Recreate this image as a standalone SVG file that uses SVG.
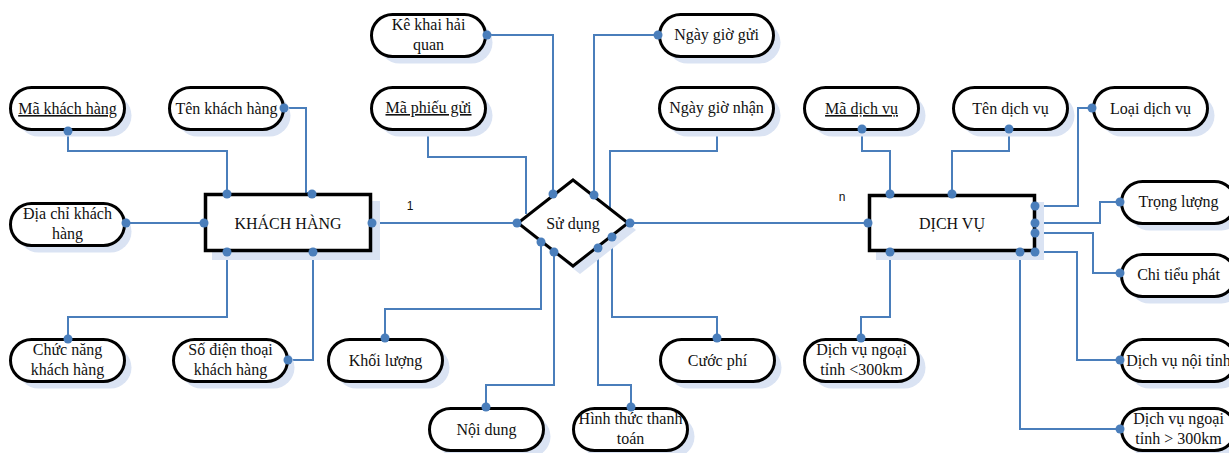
<svg xmlns="http://www.w3.org/2000/svg" width="1229" height="453" viewBox="0 0 1229 453">
  <defs>
    <style>
      .shadow { fill: #dae3f3; }
      .pill { fill: #ffffff; stroke: #000000; stroke-width: 3; }
      .box { fill: #ffffff; stroke: #000000; stroke-width: 3.5; }
      .lbl { font-family: "Liberation Serif", "Times New Roman", serif; font-size: 16px; fill: #111111; text-anchor: middle; }
      .key { text-decoration: underline; }
      .card { font-family: "Liberation Sans", Arial, sans-serif; font-size: 12px; fill: #111111; }
      .wire { fill: none; stroke: #4a7ebb; stroke-width: 2; }
      .dot { fill: #4a7ebb; }
    </style>
    <!-- attribute ellipse: shadow + outline, placed with translate -->
    <g id="pillShape">
      <rect class="shadow" x="8.5" y="8.5" width="114" height="42" rx="21"/>
      <rect class="pill" x="1.5" y="1.5" width="114" height="42" rx="21"/>
    </g>
  </defs>

  <rect width="1229" height="453" fill="#ffffff"/>

  <!-- connectors -->
  <g id="connectors">
    <path class="wire" d="M68,131 V151 H227 V194"/>
    <path class="wire" d="M284,108 H306 V193 H312"/>
    <path class="wire" d="M126,223 H204"/>
    <path class="wire" d="M227,252 V317 H68 V339"/>
    <path class="wire" d="M313,252 V360 H288"/>
    <path class="wire" d="M372,223 H517"/>
    <path class="wire" d="M487,35 H553 V194"/>
    <path class="wire" d="M428,129 V157 H526 V214"/>
    <path class="wire" d="M658,35 H594 V195"/>
    <path class="wire" d="M717,129 V151 H610 V208"/>
    <path class="wire" d="M541,242 V309 H385 V338"/>
    <path class="wire" d="M554,252 V385 H486 V407"/>
    <path class="wire" d="M598,248 V385 H631 V407"/>
    <path class="wire" d="M612,237 V317 H717 V338"/>
    <path class="wire" d="M630,223 H868"/>
    <path class="wire" d="M862,129 V151 H890 V194"/>
    <path class="wire" d="M1009,129 V151 H952 V194"/>
    <path class="wire" d="M1092,108 H1078 V206 H1035"/>
    <path class="wire" d="M1035,223 H1100 V202 H1120"/>
    <path class="wire" d="M1035,233 H1093 V273 H1120"/>
    <path class="wire" d="M1035,252 H1077 V360 H1120"/>
    <path class="wire" d="M1020,252 V429 H1120"/>
    <path class="wire" d="M890,252 V317 H861 V338"/>
    <text class="card" x="410" y="210" text-anchor="middle">1</text>
    <text class="card" x="842" y="201" text-anchor="middle">n</text>
  </g>

  <!-- entity: KHÁCH HÀNG -->
  <g id="khach-hang">
    <rect class="shadow" x="212" y="201" width="168" height="59"/>
    <rect class="box" x="205.5" y="194.5" width="165" height="56"/>
    <text class="lbl" x="288" y="229">KHÁCH HÀNG</text>
  </g>

  <!-- relationship: Sử dụng -->
  <g id="su-dung">
    <polygon class="shadow" points="580,186 636,230 580,274 524,230"/>
    <polygon class="pill" points="573,180 628,223 573,266 518,223"/>
    <text class="lbl" x="573" y="229">Sử dụng</text>
  </g>

  <!-- entity: DỊCH VỤ -->
  <g id="dich-vu">
    <rect class="shadow" x="876" y="202" width="168" height="58"/>
    <rect class="box" x="869.5" y="195.5" width="165" height="55"/>
    <text class="lbl" x="952" y="229">DỊCH VỤ</text>
  </g>

  <!-- attributes of KHÁCH HÀNG -->
  <g id="ma-khach-hang" transform="translate(9,86)">
    <use href="#pillShape"/>
    <text class="lbl key" x="58.5" y="28">Mã khách hàng</text>
  </g>
  <g id="ten-khach-hang" transform="translate(168,86)">
    <use href="#pillShape"/>
    <text class="lbl" x="58.5" y="28">Tên khách hàng</text>
  </g>
  <g id="dia-chi-khach-hang" transform="translate(9,202)">
    <use href="#pillShape"/>
    <text class="lbl" x="58.5" y="17">Địa chỉ khách</text>
    <text class="lbl" x="58.5" y="37">hàng</text>
  </g>
  <g id="chuc-nang-khach-hang" transform="translate(9,338)">
    <use href="#pillShape"/>
    <text class="lbl" x="58.5" y="17">Chức năng</text>
    <text class="lbl" x="58.5" y="37">khách hàng</text>
  </g>
  <g id="so-dien-thoai" transform="translate(172,338)">
    <use href="#pillShape"/>
    <text class="lbl" x="58.5" y="17">Số điện thoại</text>
    <text class="lbl" x="58.5" y="37">khách hàng</text>
  </g>

  <!-- attributes of Sử dụng -->
  <g id="ke-khai-hai-quan" transform="translate(370,13)">
    <use href="#pillShape"/>
    <text class="lbl" x="58.5" y="17">Kê khai hải</text>
    <text class="lbl" x="58.5" y="37">quan</text>
  </g>
  <g id="ma-phieu-gui" transform="translate(370,86)">
    <use href="#pillShape"/>
    <text class="lbl key" x="58.5" y="27">Mã phiếu gửi</text>
  </g>
  <g id="ngay-gio-gui" transform="translate(658,13)">
    <use href="#pillShape"/>
    <text class="lbl" x="58.5" y="27">Ngày giờ gửi</text>
  </g>
  <g id="ngay-gio-nhan" transform="translate(658,86)">
    <use href="#pillShape"/>
    <text class="lbl" x="58.5" y="27">Ngày giờ nhận</text>
  </g>
  <g id="khoi-luong" transform="translate(327,338)">
    <use href="#pillShape"/>
    <text class="lbl" x="58.5" y="28">Khối lượng</text>
  </g>
  <g id="noi-dung" transform="translate(428,407)">
    <use href="#pillShape"/>
    <text class="lbl" x="58.5" y="28">Nội dung</text>
  </g>
  <g id="hinh-thuc-thanh-toan" transform="translate(572,407)">
    <use href="#pillShape"/>
    <text class="lbl" x="58.5" y="17">Hình thức thanh</text>
    <text class="lbl" x="58.5" y="37">toán</text>
  </g>
  <g id="cuoc-phi" transform="translate(659,338)">
    <use href="#pillShape"/>
    <text class="lbl" x="58.5" y="28">Cước phí</text>
  </g>

  <!-- attributes of DỊCH VỤ -->
  <g id="ma-dich-vu" transform="translate(803,86)">
    <use href="#pillShape"/>
    <text class="lbl key" x="58.5" y="28">Mã dịch vụ</text>
  </g>
  <g id="ten-dich-vu" transform="translate(952,86)">
    <use href="#pillShape"/>
    <text class="lbl" x="58.5" y="28">Tên dịch vụ</text>
  </g>
  <g id="loai-dich-vu" transform="translate(1092,86)">
    <use href="#pillShape"/>
    <text class="lbl" x="58.5" y="28">Loại dịch vụ</text>
  </g>
  <g id="trong-luong" transform="translate(1120,180)">
    <use href="#pillShape"/>
    <text class="lbl" x="58.5" y="27">Trọng lượng</text>
  </g>
  <g id="chi-tieu-phat" transform="translate(1120,253)">
    <use href="#pillShape"/>
    <text class="lbl" x="58.5" y="27">Chi tiểu phát</text>
  </g>
  <g id="dv-ngoai-tinh-duoi" transform="translate(803,338)">
    <use href="#pillShape"/>
    <text class="lbl" x="58.5" y="17">Dịch vụ ngoại</text>
    <text class="lbl" x="58.5" y="37">tỉnh &lt;300km</text>
  </g>
  <g id="dv-noi-tinh" transform="translate(1120,338)">
    <use href="#pillShape"/>
    <text class="lbl" x="58.5" y="28">Dịch vụ nội tỉnh</text>
  </g>
  <g id="dv-ngoai-tinh-tren" transform="translate(1120,407)">
    <use href="#pillShape"/>
    <text class="lbl" x="58.5" y="17">Dịch vụ ngoại</text>
    <text class="lbl" x="58.5" y="37">tỉnh &gt; 300km</text>
  </g>

  <!-- connection points drawn over the outlines -->
  <g id="connection-points">
    <circle class="dot" cx="68" cy="131" r="4.5"/>
    <circle class="dot" cx="227" cy="194" r="4.5"/>
    <circle class="dot" cx="284" cy="108" r="4.5"/>
    <circle class="dot" cx="312" cy="194" r="4.5"/>
    <circle class="dot" cx="126" cy="223" r="4.5"/>
    <circle class="dot" cx="204" cy="223" r="4.5"/>
    <circle class="dot" cx="227" cy="252" r="4.5"/>
    <circle class="dot" cx="68" cy="339" r="4.5"/>
    <circle class="dot" cx="313" cy="252" r="4.5"/>
    <circle class="dot" cx="288" cy="360" r="4.5"/>
    <circle class="dot" cx="372" cy="223" r="4.5"/>
    <circle class="dot" cx="517" cy="223" r="4.5"/>
    <circle class="dot" cx="487" cy="35" r="4.5"/>
    <circle class="dot" cx="553" cy="194" r="4.5"/>
    <circle class="dot" cx="658" cy="35" r="4.5"/>
    <circle class="dot" cx="594" cy="195" r="4.5"/>
    <circle class="dot" cx="541" cy="242" r="4.5"/>
    <circle class="dot" cx="385" cy="338" r="4.5"/>
    <circle class="dot" cx="554" cy="252" r="4.5"/>
    <circle class="dot" cx="486" cy="407" r="4.5"/>
    <circle class="dot" cx="598" cy="248" r="4.5"/>
    <circle class="dot" cx="631" cy="407" r="4.5"/>
    <circle class="dot" cx="612" cy="237" r="4.5"/>
    <circle class="dot" cx="717" cy="338" r="4.5"/>
    <circle class="dot" cx="630" cy="223" r="4.5"/>
    <circle class="dot" cx="868" cy="223" r="4.5"/>
    <circle class="dot" cx="862" cy="129" r="4.5"/>
    <circle class="dot" cx="890" cy="194" r="4.5"/>
    <circle class="dot" cx="1009" cy="129" r="4.5"/>
    <circle class="dot" cx="952" cy="194" r="4.5"/>
    <circle class="dot" cx="1092" cy="108" r="4.5"/>
    <circle class="dot" cx="1035" cy="206" r="4.5"/>
    <circle class="dot" cx="1035" cy="223" r="4.5"/>
    <circle class="dot" cx="1120" cy="202" r="4.5"/>
    <circle class="dot" cx="1035" cy="233" r="4.5"/>
    <circle class="dot" cx="1120" cy="273" r="4.5"/>
    <circle class="dot" cx="1035" cy="252" r="4.5"/>
    <circle class="dot" cx="1120" cy="360" r="4.5"/>
    <circle class="dot" cx="1020" cy="252" r="4.5"/>
    <circle class="dot" cx="1120" cy="429" r="4.5"/>
    <circle class="dot" cx="890" cy="252" r="4.5"/>
    <circle class="dot" cx="861" cy="338" r="4.5"/>
  </g>
</svg>
